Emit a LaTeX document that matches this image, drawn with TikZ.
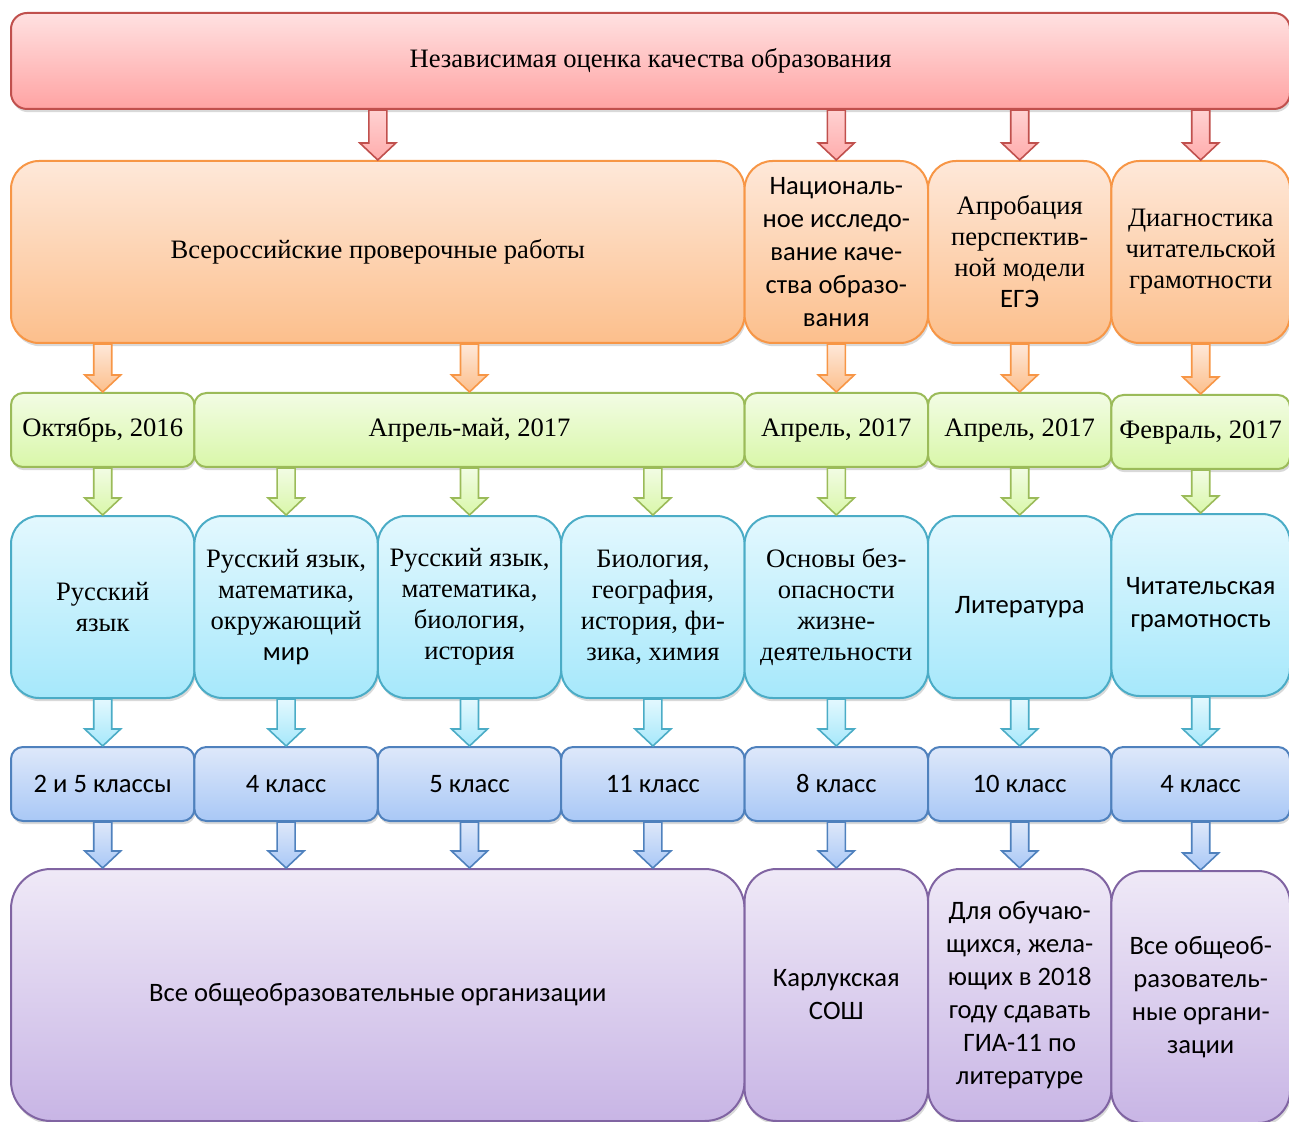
\documentclass[tikz,border=0pt]{standalone}
\usepackage{fontspec}
\setmainfont{Liberation Serif}
\setsansfont{Carlito}
\usetikzlibrary{calc,shadows}

\definecolor{redline}{HTML}{C0504D}
\definecolor{redtop}{HTML}{FFE1E1}
\definecolor{redbot}{HTML}{FFA3A3}
\definecolor{orline}{HTML}{F79646}
\definecolor{ortop}{HTML}{FEE8D9}
\definecolor{orbot}{HTML}{FCBF8C}
\definecolor{grline}{HTML}{9BBB59}
\definecolor{grtop}{HTML}{F2FCE4}
\definecolor{grbot}{HTML}{D9F7A9}
\definecolor{cyline}{HTML}{4BACC6}
\definecolor{cytop}{HTML}{E3F8FE}
\definecolor{cybot}{HTML}{A6E8FB}
\definecolor{blline}{HTML}{4F81BD}
\definecolor{bltop}{HTML}{DEE8FA}
\definecolor{blbot}{HTML}{A9C8F6}
\definecolor{puline}{HTML}{8064A2}
\definecolor{putop}{HTML}{EFE9F7}
\definecolor{pubot}{HTML}{C8B5E5}

\newcommand\blockarr[3]{\path[#1] let \p1=(#2), \p2=(#3) in
  (\x1-4.5pt,\y1) -- (\x1+4.5pt,\y1) -- (\x1+4.5pt,\y2+8.5pt) -- (\x1+9pt,\y2+8.5pt)
  -- (\x1,\y2) -- (\x1-9pt,\y2+8.5pt) -- (\x1-4.5pt,\y2+8.5pt) -- cycle;}

\begin{document}
\begin{tikzpicture}[x=0.5pt,y=-0.5pt,
  box/.style={draw,line width=1pt,anchor=north west,align=center,inner sep=0pt,
    font=\fontsize{13.3pt}{15.5pt}\rmfamily,
    drop shadow={shadow xshift=0.6pt,shadow yshift=-1.6pt,opacity=0.3}},
  sans/.style={font=\fontsize{13.3pt}{16.5pt}\sffamily},
  one/.style={minimum width=91.7pt},
  last/.style={minimum width=89.3pt},
  wide/.style={minimum width=366.8pt},
  rbox/.style={box,draw=redline,top color=redtop,bottom color=redbot,rounded corners=8pt},
  obox/.style={box,draw=orline,top color=ortop,bottom color=orbot,rounded corners=14pt,minimum height=91pt},
  gbox/.style={box,draw=grline,top color=grtop,bottom color=grbot,rounded corners=6pt,minimum height=37pt},
  cbox/.style={box,draw=cyline,top color=cytop,bottom color=cybot,rounded corners=14pt,minimum height=91pt},
  bbox/.style={box,sans,draw=blline,top color=bltop,bottom color=blbot,rounded corners=6pt,minimum height=37pt},
  pbox/.style={box,sans,draw=puline,top color=putop,bottom color=pubot,rounded corners=16pt,minimum height=126pt},
  rarr/.style={draw=redline,line width=0.8pt,top color=redbot!50,bottom color=redbot!90},
  oarr/.style={draw=orline,line width=0.8pt,top color=ortop,bottom color=orbot},
  garr/.style={draw=grline,line width=0.8pt,top color=grtop,bottom color=grbot},
  carr/.style={draw=cyline,line width=0.8pt,top color=cytop,bottom color=cybot},
  barr/.style={draw=blline,line width=0.8pt,top color=bltop,bottom color=blbot}]
\useasboundingbox (0,0) rectangle (1289,1122);

\node[rbox,minimum width=639.5pt,minimum height=48pt] (nok) at (10,12)
  {Независимая оценка качества образования};

\node[obox,wide] (vpr) at (10,160) {Всероссийские проверочные работы};
\node[obox,one,sans] (nis) at (743.6,160)
  {Националь-\\ное исследо-\\вание каче-\\ства образо-\\вания};
\node[obox,one] (ege) at (927,160) {Апробация\\перспектив-\\ной модели\\{\sffamily ЕГЭ}};
\node[obox,last] (diag) at (1110.4,160) {Диагностика\\читательской\\грамотности};

\node[gbox,one] (okt) at (10,392) {Октябрь, 2016};
\node[gbox,minimum width=275.1pt] (aprmay) at (193.4,392) {Апрель-май, 2017};
\node[gbox,one] (aprnis) at (743.6,392) {Апрель, 2017};
\node[gbox,one] (aprege) at (927,392) {Апрель, 2017};
\node[gbox,last] (feb) at (1110.4,394) {Февраль, 2017};

\node[cbox,one] (rus) at (10,515) {Русский\\язык};
\node[cbox,one] (rmo) at (193.4,515) {Русский язык,\\математика,\\окружающий\\{\sffamily мир}};
\node[cbox,one] (rmb) at (376.8,515) {Русский язык,\\математика,\\биология,\\история};
\node[cbox,one] (bgi) at (560.2,515) {Биология,\\география,\\история, фи-\\зика, химия};
\node[cbox,one] (obzh) at (743.6,515) {Основы без-\\опасности\\жизне-\\деятельности};
\node[cbox,one,sans] (lit) at (927,515) {Литература};
\node[cbox,last,sans] (chit) at (1110.4,513) {Читательская\\грамотность};

\node[bbox,one] (kl25) at (10,746) {2 и 5 классы};
\node[bbox,one] (kl4) at (193.4,746) {4 класс};
\node[bbox,one] (kl5) at (376.8,746) {5 класс};
\node[bbox,one] (kl11) at (560.2,746) {11 класс};
\node[bbox,one] (kl8) at (743.6,746) {8 класс};
\node[bbox,one] (kl10) at (927,746) {10 класс};
\node[bbox,last] (kl4d) at (1110.4,746) {4 класс};

\node[pbox,wide,rounded corners=20pt] (vse) at (10,868) {Все общеобразовательные организации};
\node[pbox,one] (karl) at (743.6,868) {Карлукская\\СОШ};
\node[pbox,one] (gia) at (927,868)
  {Для обучаю-\\щихся, жела-\\ющих в 2018\\году сдавать\\ГИА-11 по\\литературе};
\node[pbox,last] (vseob) at (1110.4,870) {Все общеоб-\\разователь-\\ные органи-\\зации};

\blockarr{rarr}{nok.south -| vpr.north}{vpr.north}
\blockarr{rarr}{nok.south -| nis.north}{nis.north}
\blockarr{rarr}{nok.south -| ege.north}{ege.north}
\blockarr{rarr}{nok.south -| diag.north}{diag.north}

\blockarr{oarr}{vpr.south -| okt.north}{okt.north}
\blockarr{oarr}{vpr.south -| aprmay.north}{aprmay.north}
\blockarr{oarr}{nis.south}{aprnis.north}
\blockarr{oarr}{ege.south}{aprege.north}
\blockarr{oarr}{diag.south}{feb.north}

\blockarr{garr}{okt.south}{rus.north}
\blockarr{garr}{aprmay.south -| rmo.north}{rmo.north}
\blockarr{garr}{aprmay.south -| rmb.north}{rmb.north}
\blockarr{garr}{aprmay.south -| bgi.north}{bgi.north}
\blockarr{garr}{aprnis.south}{obzh.north}
\blockarr{garr}{aprege.south}{lit.north}
\blockarr{garr}{feb.south}{chit.north}

\blockarr{carr}{rus.south}{kl25.north}
\blockarr{carr}{rmo.south}{kl4.north}
\blockarr{carr}{rmb.south}{kl5.north}
\blockarr{carr}{bgi.south}{kl11.north}
\blockarr{carr}{obzh.south}{kl8.north}
\blockarr{carr}{lit.south}{kl10.north}
\blockarr{carr}{chit.south}{kl4d.north}

\blockarr{barr}{kl25.south}{kl25.south |- vse.north}
\blockarr{barr}{kl4.south}{kl4.south |- vse.north}
\blockarr{barr}{kl5.south}{kl5.south |- vse.north}
\blockarr{barr}{kl11.south}{kl11.south |- vse.north}
\blockarr{barr}{kl8.south}{karl.north}
\blockarr{barr}{kl10.south}{gia.north}
\blockarr{barr}{kl4d.south}{vseob.north}
\end{tikzpicture}
\end{document}
